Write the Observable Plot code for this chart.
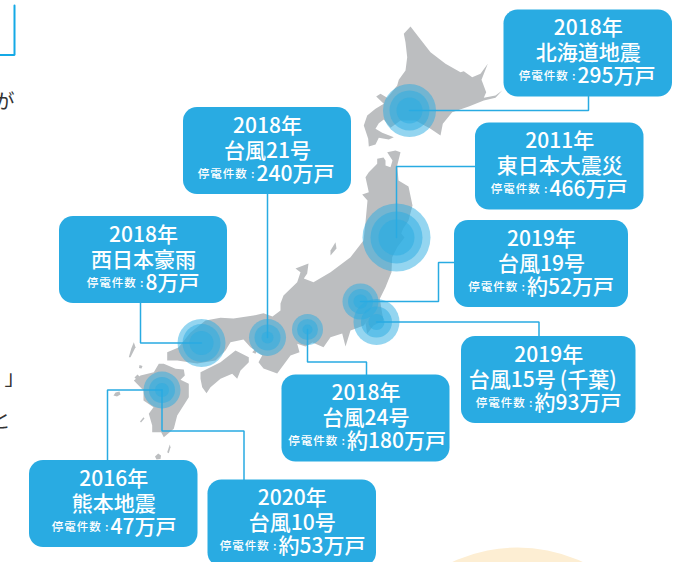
<!DOCTYPE html>
<html><head><meta charset="utf-8">
<script src="https://cdn.jsdelivr.net/npm/d3@7"></script>
<script src="https://cdn.jsdelivr.net/npm/@observablehq/plot@0.6"></script>
<style>html,body{margin:0;padding:0;background:#fff;overflow:hidden}svg{display:block}.lbl text{letter-spacing:1px}</style>
</head><body><div id="chart"></div>
<script>
// Event facts
const years  = ["2018年","2011年","2019年","2019年","2018年","2018年","2018年","2016年","2020年"];
const names  = ["北海道地震","東日本大震災","台風19号","台風15号\u2009(千葉)","台風24号","台風21号","西日本豪雨","熊本地震","台風10号"];
const counts = ["295万戸","466万戸","約52万戸","約93万戸","約180万戸","240万戸","8万戸","47万戸","約53万戸"];
const countLabel = "停電件数\u2009:";

// Where each event sits on the map (picture units)
const epicentreX = [409,396,360,376,307,267,201,161.5,161.5];
const epicentreY = [110,237,301,321.5,329,337,342.5,389.5,389.5];
const ringSizes  = [[26.5,20,13],[34,26,18],[18,12.5,7],[23,15.5,8],[15.5,10.5,5],[18.5,13,6],[24,19,12],[18.5,13,7],[]];

// Card layout (picture units)
const cardLeft  = [503.5,475,454,461,281.5,183,59,29,207.5];
const cardTop   = [9.5,122.5,220,336,374.5,107,216,460,479.5];
const cardWidth = [168.5,168.5,174,174.5,168,168,168,168.5,168.5];
const cardH = 87;
const nameShift = [0,0,0,-6,0,0,0,0,0];
const countStart = [577,549,526.5,534,346.5,256,145,110,278];

// Connector bends, from epicentre to card
const connectors = [
  [[409,110],[588,110],[588,96]],
  [[396,237],[396,166],[476,166]],
  [[360,301],[438,301],[438,262],[455,262]],
  [[376,321.5],[538.5,321.5],[538.5,337]],
  [[307,329],[307,361.5],[366,361.5],[366,375]],
  [[267,337],[267,168]],
  [[201,342.5],[140,342.5],[140,302]],
  [[161.5,389.5],[107,389.5],[107,461]],
  [[161.5,389.5],[161.5,430.5],[243.5,430.5],[243.5,480]]
];

// Japan outline
const hokkaido = [[410,26],[418.3,36.7],[430,51.7],[445,63.3],[460,71.7],[463.3,70.7],[471.7,76.7],[480,73.3],[487.3,63.3],[481,79.3],[485.7,91.7],[483.3,97.3],[495,95],[501.7,90],[495,97.3],[483.3,100],[468.3,106],[451.7,111.7],[442.3,123.3],[440,135],[430,128.3],[415,120],[400,120],[390,127.3],[383.3,119],[378.3,122.7],[375,128.3],[381.7,132.3],[393.3,136.7],[388.3,139],[378.3,137.3],[375,144],[368.3,146],[367.7,138.3],[363.3,125],[366.7,115],[375,108.3],[383.3,103.3],[375.7,96],[380,93.3],[386.7,97.3],[396.7,85],[398.3,79.3],[405,70],[406.7,56.7],[405,41.7],[403.3,33.3]];
const honshu = [[386.7,151.7],[395,150],[400,151.7],[396.7,165],[398,180],[408,186],[412,205],[408,220],[402.7,228],[400.7,233],[404,237],[396.7,246.7],[391.7,256.7],[391,271.7],[385,286.7],[379.3,298.3],[381.7,313],[383,320],[373,325],[366.7,333.3],[365,323],[368.3,318],[363.3,325],[350,330],[345,346],[341.7,333],[330,336.7],[323,346.7],[312,342],[305,346],[296.7,343.3],[299,351.7],[290,355],[276.7,373],[263,368],[258,361.7],[261.7,355],[250,346.7],[243,339],[230,341.7],[225,350],[215,360],[196.7,363],[176.7,360],[166.7,360],[166.7,351.7],[178,347],[190,332],[205,320],[220,317.3],[233,318],[253,315],[263,312.7],[272,316],[280,310],[280,303],[283,295],[296.7,281.7],[300,271.7],[295,268],[308,263],[306.7,273],[303.3,278],[313,281.7],[330,271.7],[350,256.7],[363,240],[365,221.7],[367,200],[361.7,194],[368.3,191.7],[365,176.7],[368.3,171.7],[376.7,163.3],[376.7,158.3],[383,157],[385,160],[385,165],[390,166.7],[392,160]];
const shikoku = [[200,371.7],[220,361.7],[235,350],[248.3,356.7],[248.3,361.7],[240,370],[236.7,378.3],[231.7,373.3],[220,378.3],[210,386.7],[206,392.7],[201.7,386.7],[200,378.3]];
const kyushu = [[163.3,363.3],[175,368.3],[183.3,369],[184.3,375],[180,379.3],[188.3,383.3],[188.3,396.7],[176.7,415],[173.3,428.3],[163.3,436.7],[160.7,431.7],[151.7,431.7],[151.7,425],[148.3,413.3],[153,406.7],[143,400],[143,390],[133.3,380],[140,375],[153.3,371.7],[158.3,363.3]];
const sado = [[335,241.7],[336,248],[330,255],[330,250]];
const tsushima = [[133.3,341.7],[135,346.7],[130,356.7],[128.3,356.7],[130.7,348.3]];
const tanegashima = [[169.3,444],[170,446.7],[168.3,452.7],[166.7,451.7]];
const yakushima = [[157.7,453],[160.5,455],[160,458.5],[156,459],[154.5,456]];
const koshiki = [[143,416.7],[144,418],[140.5,422],[139.5,421]];
const goto = [[119,391],[120,394],[116.5,396],[113,395],[115,392]];
const hirado = [[137,374],[139,376],[136,379],[134,377]];
const ikishima = [[139,364.5],[142,365.5],[141,368],[138.5,367.5]];
const awaji = [[260,343.3],[255,353.3],[251.7,351.7]];
const islands = {hokkaido,honshu,shikoku,kyushu,sado,tsushima,tanegashima,yakushima,koshiki,goto,hirado,ikishima,awaji};

// Clipped surroundings
const pageText = [
  {t:"が",x:4,y:102},
  {t:"」",x:14,y:378},
  {t:"と",x:0,y:421}
];
const frameCorner = [[0,54.5],[14,54.5],[14,5]];
const sun = [{x:517,y:701,r:154}];

// Tables built from the arrays above
const mapPoints = Object.entries(islands).flatMap(([k,pts]) => pts.map(p => ({k,x:p[0],y:p[1]})));
const linkPoints = connectors.flatMap((pts,i) => pts.map(p => ({i,x:p[0],y:p[1]})));
const rings = ringSizes.flatMap((rs,i) => rs.map((r,o) => ({x:epicentreX[i],y:epicentreY[i],r,o})));
const cards = years.map((y,i) => ({
  year:y,name:names[i],count:counts[i],
  x1:cardLeft[i],x2:cardLeft[i]+cardWidth[i],y1:cardTop[i],y2:cardTop[i]+cardH,
  cx:cardLeft[i]+cardWidth[i]/2,nameX:cardLeft[i]+cardWidth[i]/2+nameShift[i],
  start:countStart[i],
  l1:cardTop[i]+18.5,l2:cardTop[i]+43.5,l3:cardTop[i]+66.5
}));

const blue = "#29abe2", font = "'Noto Sans CJK JP','Noto Sans',sans-serif";
const chart = Plot.plot({
  width:690,height:562,margin:0,
  style:{background:"#fff",fontFamily:font},
  x:{domain:[0,690],range:[0,690],axis:null},
  y:{domain:[0,562],range:[0,562],axis:null},
  r:{type:"linear",domain:[0,200],range:[0,200]},
  marks:[
    Plot.dot(sun,{x:"x",y:"y",r:"r",fill:"#fdeed3",stroke:"none"}),
    Plot.line(mapPoints,{x:"x",y:"y",z:"k",fill:"#bcbec0",stroke:"none"}),
    Plot.dot(rings,{x:"x",y:"y",r:"r",fill:blue,fillOpacity:0.5,stroke:"none"}),
    Plot.line(linkPoints,{x:"x",y:"y",z:"i",stroke:blue,strokeWidth:1.5,strokeLinejoin:"miter"}),
    Plot.rect(cards,{x1:"x1",x2:"x2",y1:"y1",y2:"y2",fill:blue,rx:14,ry:14,inset:0}),
    Plot.text(cards,{x:"cx",y:"l1",text:"year",fill:"#fff",fontSize:21,fontWeight:500,lineAnchor:"middle"}),
    Plot.text(cards,{x:"nameX",y:"l2",text:"name",fill:"#fff",fontSize:21,fontWeight:500,lineAnchor:"middle"}),
    Plot.text(cards,{x:d=>d.start-1,y:"l3",text:()=>countLabel,fill:"#fff",fontSize:11.5,fontWeight:500,textAnchor:"end",lineAnchor:"middle",className:"lbl"}),
    Plot.text(cards,{x:"start",y:"l3",text:"count",fill:"#fff",fontSize:21,fontWeight:500,textAnchor:"start",lineAnchor:"middle"}),
    Plot.line(frameCorner,{x:d=>d[0],y:d=>d[1],stroke:"#14a9e6",strokeWidth:2,strokeLinejoin:"miter"}),
    Plot.text(pageText,{x:"x",y:"y",text:"t",fontSize:20,fill:"#333",lineAnchor:"middle"})
  ]
});
document.getElementById("chart").append(chart);
</script></body></html>
